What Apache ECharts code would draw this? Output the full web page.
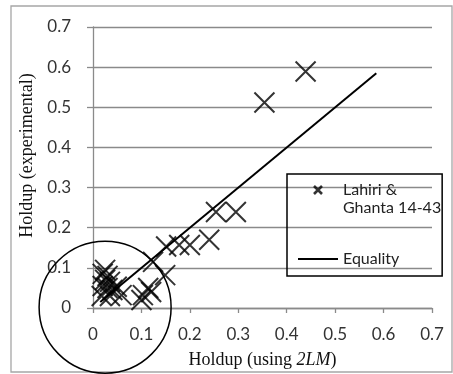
<!DOCTYPE html>
<html>
<head>
<meta charset="utf-8">
<script src="https://cdn.jsdelivr.net/npm/echarts@6/dist/echarts.min.js"></script>
<style>
html,body{margin:0;padding:0;background:#fff;}
#chart{width:453px;height:374px;}
</style>
</head>
<body>
<div id="chart"></div>
<script>
// ---- data ----
var tickValues = [0, 0.1, 0.2, 0.3, 0.4, 0.5, 0.6, 0.7];
var tickLabels = ['0', '0.1', '0.2', '0.3', '0.4', '0.5', '0.6', '0.7'];
var seriesNames = ['Lahiri & Ghanta 14-43', 'Equality'];
var holdup2LM = [0.439, 0.354, 0.254, 0.295, 0.240, 0.200, 0.178, 0.151, 0.124, 0.149, 0.114, 0.103, 0.100, 0.120,
                 0.025, 0.020, 0.030, 0.025, 0.035, 0.020, 0.030, 0.040, 0.018, 0.059, 0.049, 0.035];
var holdupExp = [0.589, 0.512, 0.239, 0.239, 0.170, 0.157, 0.157, 0.153, 0.115, 0.082, 0.050, 0.032, 0.020, 0.040,
                 0.095, 0.085, 0.080, 0.070, 0.065, 0.055, 0.050, 0.045, 0.030, 0.032, 0.053, 0.030];
var equalityX = [0.015, 0.585];
var equalityY = [0.015, 0.585];

var scatterData = holdup2LM.map(function (x, i) { return [x, holdupExp[i]]; });
var lineData = equalityX.map(function (x, i) { return [x, equalityY[i]]; });

function fmt(v) {
  var idx = tickValues.findIndex(function (t) { return Math.abs(t - v) < 1e-9; });
  return idx >= 0 ? tickLabels[idx] : '';
}

var chart = echarts.init(document.getElementById('chart'), null, {renderer: 'canvas'});
var gridColor = '#8a8a8a';
var option = {
  animation: false,
  backgroundColor: '#fff',
  grid: {left: 93, right: 21, top: 27, bottom: 66, containLabel: false},
  xAxis: {
    type: 'value',
    min: tickValues[0], max: tickValues[tickValues.length - 1], interval: 0.1,
    name: '{a|Holdup (using }{b|2LM}{a|)}',
    nameLocation: 'middle', nameGap: 43,
    nameTextStyle: {
      rich: {
        a: {fontFamily: 'Liberation Serif', fontSize: 18, color: '#111'},
        b: {fontFamily: 'Liberation Serif', fontSize: 18, fontStyle: 'italic', color: '#111'}
      }
    },
    axisLine: {show: true, lineStyle: {color: gridColor, width: 1.3}},
    axisTick: {show: true, length: 5, lineStyle: {color: gridColor, width: 1.3}},
    axisLabel: {margin: 18, formatter: fmt, fontFamily: 'Lato', fontSize: 17, color: '#333'},
    splitLine: {show: false}
  },
  yAxis: {
    type: 'value',
    min: tickValues[0], max: tickValues[tickValues.length - 1], interval: 0.1,
    name: 'Holdup (experimental)',
    nameLocation: 'middle', nameGap: 54,
    nameTextStyle: {fontFamily: 'Liberation Serif', fontSize: 18, color: '#111', padding: [0, 0, 0, 24]},
    axisLine: {show: true, lineStyle: {color: gridColor, width: 1.3}},
    axisTick: {show: true, length: 6, lineStyle: {color: gridColor, width: 1.3}},
    axisLabel: {margin: 22, formatter: fmt, fontFamily: 'Lato', fontSize: 17, color: '#333'},
    splitLine: {show: true, lineStyle: {color: gridColor, width: 1.3}}
  },
  legend: {
    orient: 'vertical',
    left: 287, top: 174,
    itemWidth: 40, itemHeight: 26, itemGap: 28,
    padding: [7, 1, 3, 10],
    borderColor: '#000', borderWidth: 1.5,
    symbolKeepAspect: true,
    textStyle: {fontFamily: 'Lato', fontSize: 16, lineHeight: 18, color: '#222'},
    formatter: function (name) {
      return name === seriesNames[0] ? 'Lahiri &\nGhanta 14-43' : name;
    },
    data: [
      {name: seriesNames[0], icon: 'path://M0,0L10,10M10,0L0,10M0,32.5',
       itemStyle: {color: 'transparent', borderColor: '#000', borderWidth: 2.6}},
      {name: seriesNames[1], icon: 'path://M0,13L40,13M0,0M0,26',
       itemStyle: {color: 'transparent', borderColor: '#000', borderWidth: 2}}
    ]
  },
  series: [
    {
      name: seriesNames[0],
      type: 'scatter',
      data: scatterData,
      symbol: 'path://M0,0L10,10M10,0L0,10',
      symbolSize: 20,
      itemStyle: {color: 'transparent', borderColor: '#000', borderWidth: 2},
      emphasis: {disabled: true},
      z: 3
    },
    {
      name: seriesNames[1],
      type: 'line',
      data: lineData,
      symbol: 'none',
      lineStyle: {color: '#000', width: 2},
      itemStyle: {color: '#000'},
      z: 4
    }
  ]
};
chart.setOption(option);

var c = chart.convertToPixel({gridIndex: 0}, [0.025, 0.002]);
chart.setOption({
  graphic: [
    {type: 'rect', shape: {x: 11, y: 6, width: 441, height: 366}, silent: true,
     style: {fill: 'none', stroke: '#a6a6a6', lineWidth: 1.3}, z: 100},
    {type: 'circle', shape: {cx: c[0], cy: c[1], r: 66}, silent: true,
     style: {fill: 'none', stroke: '#000', lineWidth: 1.5}, z: 100}
  ]
});
</script>
</body>
</html>
